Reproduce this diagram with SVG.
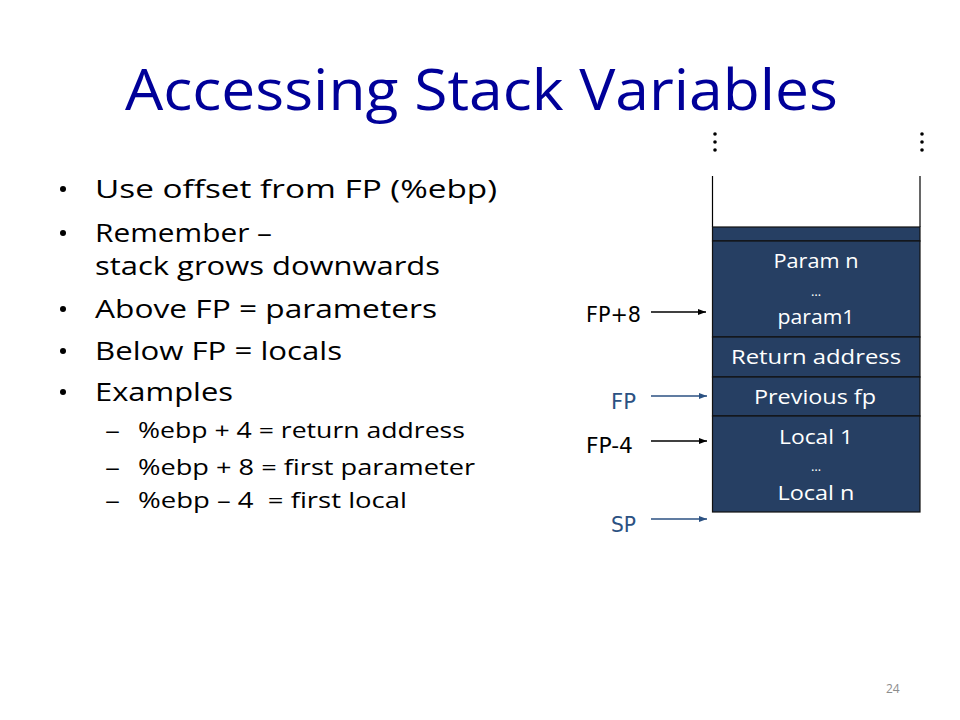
<svg xmlns="http://www.w3.org/2000/svg" width="960" height="720" viewBox="0 0 960 720">
<style>
.title{font-family:"Open Sans","Liberation Sans",sans-serif;font-size:56px;fill:#000099}
.body{font-family:"Open Sans","Liberation Sans",sans-serif;font-size:26px;fill:#000}
.sub{font-family:"Open Sans","Liberation Sans",sans-serif;font-size:22px;fill:#000}
.cell{fill:#263f63;stroke:#111;stroke-width:1.2}
.ct{font-family:"Open Sans","Liberation Sans",sans-serif;font-size:20px;fill:#fff;text-anchor:middle}
.ell{font-family:"Open Sans","Liberation Sans",sans-serif;font-size:13px;fill:#fff;text-anchor:middle}
.lbl{font-family:"DejaVu Sans","Liberation Sans",sans-serif;font-size:21px}
.blk{fill:#000}
.blu{fill:#2b5182}
.page{font-family:"Open Sans","Liberation Sans",sans-serif;font-size:12px;fill:#8c8c8c}
</style>
<defs>
<marker id="ah" markerWidth="8" markerHeight="6" refX="8" refY="3" orient="auto" markerUnits="userSpaceOnUse"><path d="M0,0 L8,3 L0,6 z" fill="#000"/></marker>
<marker id="ahb" markerWidth="8" markerHeight="6" refX="8" refY="3" orient="auto" markerUnits="userSpaceOnUse"><path d="M0,0 L8,3 L0,6 z" fill="#2b5182"/></marker>
</defs>
<rect width="960" height="720" fill="#fff"/>
<text class="title" x="125" y="110" textLength="713" lengthAdjust="spacingAndGlyphs">Accessing Stack Variables</text>
<g id="bullets">
<circle cx="63" cy="189" r="3" fill="#000"/>
<text class="body" x="95" y="198" textLength="402" lengthAdjust="spacingAndGlyphs">Use offset from FP (%ebp)</text>
<circle cx="63" cy="233" r="3" fill="#000"/>
<text class="body" x="95" y="242" textLength="177" lengthAdjust="spacingAndGlyphs">Remember –</text>
<text class="body" x="95" y="275" textLength="345" lengthAdjust="spacingAndGlyphs">stack grows downwards</text>
<circle cx="63" cy="309" r="3" fill="#000"/>
<text class="body" x="95" y="318" textLength="342" lengthAdjust="spacingAndGlyphs">Above FP = parameters</text>
<circle cx="63" cy="351" r="3" fill="#000"/>
<text class="body" x="95" y="360" textLength="247" lengthAdjust="spacingAndGlyphs">Below FP = locals</text>
<circle cx="63" cy="392" r="3" fill="#000"/>
<text class="body" x="95" y="401" textLength="138" lengthAdjust="spacingAndGlyphs">Examples</text>
<text class="sub" x="105" y="438" textLength="15" lengthAdjust="spacingAndGlyphs">–</text>
<text class="sub" x="138" y="438" textLength="327" lengthAdjust="spacingAndGlyphs">%ebp + 4 = return address</text>
<text class="sub" x="105" y="475" textLength="15" lengthAdjust="spacingAndGlyphs">–</text>
<text class="sub" x="138" y="475" textLength="337" lengthAdjust="spacingAndGlyphs">%ebp + 8 = first parameter</text>
<text class="sub" x="105" y="508" textLength="15" lengthAdjust="spacingAndGlyphs">–</text>
<text class="sub" x="138" y="508" textLength="269" lengthAdjust="spacingAndGlyphs" xml:space="preserve">%ebp – 4  = first local</text>
</g>
<g id="dots">
<circle cx="715" cy="134" r="1.8" fill="#000"/><circle cx="715" cy="142" r="1.8" fill="#000"/><circle cx="715" cy="150" r="1.8" fill="#000"/>
<circle cx="922" cy="134" r="1.8" fill="#000"/><circle cx="922" cy="142" r="1.8" fill="#000"/><circle cx="922" cy="150" r="1.8" fill="#000"/>
</g>
<g id="stack-top">
<line x1="712.5" y1="176" x2="712.5" y2="227" stroke="#000" stroke-width="1.2"/>
<line x1="920" y1="176" x2="920" y2="227" stroke="#000" stroke-width="1.2"/>
<rect class="cell" x="712.5" y="227" width="207.5" height="14"/>
</g>
<g id="params">
<rect class="cell" x="712.5" y="241" width="207.5" height="96"/>
<text class="ct" x="816" y="268" textLength="85" lengthAdjust="spacingAndGlyphs">Param n</text>
<text class="ell" x="816" y="296">…</text>
<text class="ct" x="816" y="324" textLength="77" lengthAdjust="spacingAndGlyphs">param1</text>
</g>
<g id="ret">
<rect class="cell" x="712.5" y="337" width="207.5" height="40"/>
<text class="ct" x="816" y="364" textLength="170" lengthAdjust="spacingAndGlyphs">Return address</text>
</g>
<g id="prevfp">
<rect class="cell" x="712.5" y="377" width="207.5" height="39"/>
<text class="ct" x="815" y="404" textLength="122" lengthAdjust="spacingAndGlyphs">Previous fp</text>
</g>
<g id="locals">
<rect class="cell" x="712.5" y="416" width="207.5" height="96"/>
<text class="ct" x="816" y="444" textLength="74" lengthAdjust="spacingAndGlyphs">Local 1</text>
<text class="ell" x="816" y="471">…</text>
<text class="ct" x="816" y="500" textLength="77" lengthAdjust="spacingAndGlyphs">Local n</text>
</g>
<g id="labels">
<text class="lbl blk" x="586" y="322" textLength="55" lengthAdjust="spacingAndGlyphs">FP+8</text>
<text class="lbl blu" x="611" y="409" textLength="25" lengthAdjust="spacingAndGlyphs">FP</text>
<text class="lbl blk" x="586" y="453" textLength="47" lengthAdjust="spacingAndGlyphs">FP-4</text>
<text class="lbl blu" x="611" y="532" textLength="25" lengthAdjust="spacingAndGlyphs">SP</text>
</g>
<g id="connectors">
<line x1="651" y1="312" x2="706" y2="312" stroke="#000" stroke-width="1.5" marker-end="url(#ah)"/>
<line x1="651" y1="396" x2="707" y2="396" stroke="#2b5182" stroke-width="1.5" marker-end="url(#ahb)"/>
<line x1="651" y1="441" x2="707" y2="441" stroke="#000" stroke-width="1.5" marker-end="url(#ah)"/>
<line x1="651" y1="519" x2="707" y2="519" stroke="#2b5182" stroke-width="1.5" marker-end="url(#ahb)"/>
</g>
<text class="page" x="886" y="693">24</text>
</svg>
